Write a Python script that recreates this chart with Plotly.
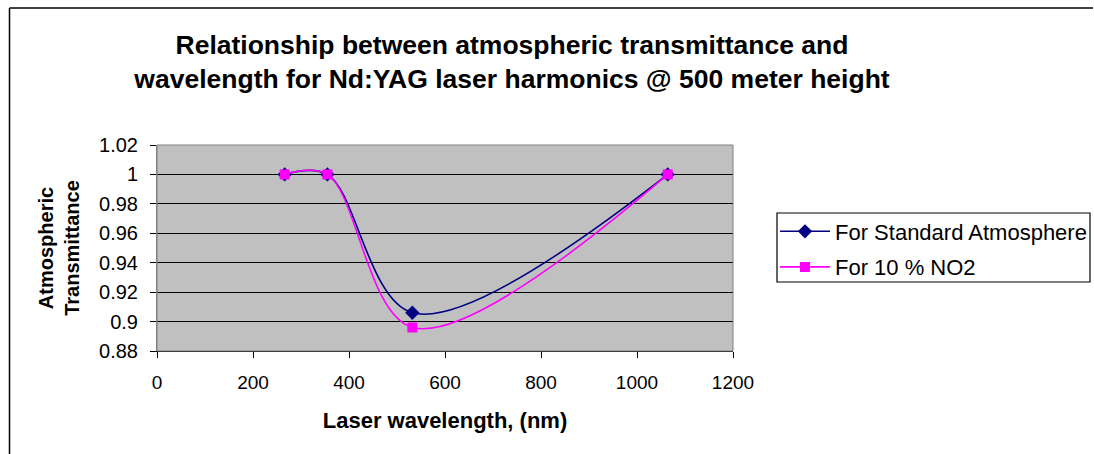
import plotly.graph_objects as go

# ---- data ----
wavelength_nm = [266, 355, 532, 1064]
standard_atm = [1.0, 1.0, 0.906, 1.0]
no2_10pct = [1.0, 1.0, 0.896, 1.0]

y_tick_vals = [0.88, 0.90, 0.92, 0.94, 0.96, 0.98, 1.00, 1.02]
y_tick_text = ["0.88", "0.9", "0.92", "0.94", "0.96", "0.98", "1", "1.02"]
x_tick_vals = [0, 200, 400, 600, 800, 1000, 1200]
x_tick_text = ["0", "200", "400", "600", "800", "1000", "1200"]

series_names = ["For Standard Atmosphere", "For 10 % NO2"]

# ---- layout geometry (pixels) ----
W, H = 1094, 454
PL, PR, PT, PB = 157, 733, 145, 351  # plot area edges
LEG_L, LEG_R, LEG_T, LEG_B = 777, 1090, 213, 282  # legend box


def px_to_paper_x(px):
    return (px - PL) / (PR - PL)


def px_to_paper_y(py):
    return (PB - py) / (PB - PT)


FONT = "Liberation Sans, Arial, sans-serif"

fig = go.Figure()
fig.add_trace(go.Scatter(
    x=wavelength_nm, y=standard_atm, name=series_names[0],
    mode="lines+markers", legendgroup="a",
    line=dict(color="#000080", width=1.6, shape="spline", smoothing=1.0),
    marker=dict(symbol="diamond", size=11, color="#000080"),
))
fig.add_trace(go.Scatter(
    x=wavelength_nm, y=no2_10pct, name=series_names[1],
    mode="lines+markers", legendgroup="b",
    line=dict(color="#FF00FF", width=1.6, shape="spline", smoothing=1.0),
    marker=dict(symbol="square", size=10, color="#FF00FF"),
))

fig.update_layout(
    width=W, height=H,
    margin=dict(l=PL, r=W - PR, t=PT, b=H - PB, pad=0, autoexpand=False),
    paper_bgcolor="white",
    plot_bgcolor="#C0C0C0",
    font=dict(family=FONT, color="black", size=19),
    title=dict(
        text="Relationship between atmospheric transmittance and<br>"
             "wavelength for Nd:YAG laser harmonics @ 500 meter height",
        x=512 / W, xanchor="center", xref="container",
        y=1 - 53.5 / H, yanchor="middle", yref="container",
        font=dict(family=FONT, size=26.5, color="black", weight="bold"),
    ),
    showlegend=True,
    legend=dict(
        x=px_to_paper_x(LEG_L - 2), y=px_to_paper_y((LEG_T + LEG_B) / 2 + 2),
        xanchor="left", yanchor="middle",
        bgcolor="rgba(0,0,0,0)", borderwidth=0,
        font=dict(family=FONT, size=22, color="black"),
        itemwidth=50, traceorder="grouped", tracegroupgap=4,
    ),
    xaxis=dict(
        range=[0, 1200], tickmode="array", tickvals=x_tick_vals, ticktext=x_tick_text,
        showgrid=False, zeroline=False,
        showline=True, linecolor="black", linewidth=1,
        ticks="outside", ticklen=6, tickcolor="black", tickwidth=1,
        ticklabelstandoff=8,
        tickfont=dict(family=FONT, size=19),
        title=dict(text="<b>Laser wavelength, (nm)</b>", standoff=20,
                   font=dict(family=FONT, size=22)),
    ),
    yaxis=dict(
        range=[0.88, 1.02], tickmode="array", tickvals=y_tick_vals, ticktext=y_tick_text,
        showgrid=True, gridcolor="black", gridwidth=1, zeroline=False,
        showline=True, linecolor="#808080", linewidth=1,
        ticks="outside", ticklen=6, tickcolor="black", tickwidth=1,
        ticklabelstandoff=8,
        tickfont=dict(family=FONT, size=20),
        title=dict(text="<b>Atmospheric<br>Transmittance</b>", standoff=14,
                   font=dict(family=FONT, size=20)),
    ),
    shapes=[
        # plot-area border
        dict(type="rect", xref="paper", yref="paper", x0=0, y0=0, x1=1, y1=1,
             line=dict(color="#808080", width=1), layer="above"),
        # legend box
        dict(type="rect", xref="paper", yref="paper",
             x0=px_to_paper_x(LEG_L), x1=px_to_paper_x(LEG_R),
             y0=px_to_paper_y(LEG_B), y1=px_to_paper_y(LEG_T),
             line=dict(color="black", width=1.2), fillcolor="white", layer="below"),
        # outer chart-area border: top edge and left edge only
        dict(type="line", xref="paper", yref="paper",
             x0=px_to_paper_x(9.5), x1=px_to_paper_x(W - 1),
             y0=px_to_paper_y(8), y1=px_to_paper_y(8),
             line=dict(color="black", width=1.5), layer="above"),
        dict(type="line", xref="paper", yref="paper",
             x0=px_to_paper_x(9.5), x1=px_to_paper_x(9.5),
             y0=px_to_paper_y(8), y1=px_to_paper_y(H),
             line=dict(color="black", width=1.5), layer="above"),
    ],
)

fig.write_html(
    "out.html",
    config={"displayModeBar": False},
    post_script="document.body.style.margin='0';document.body.style.overflow='hidden';",
)
